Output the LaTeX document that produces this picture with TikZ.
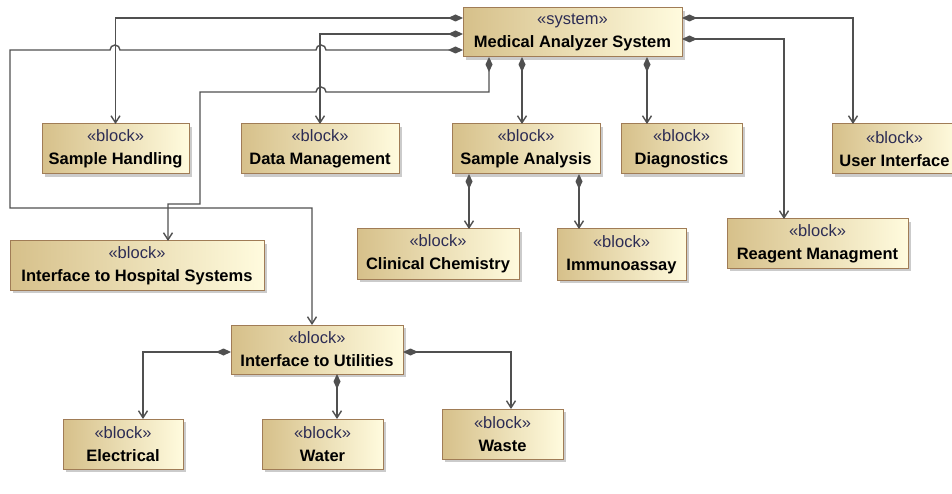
\documentclass[tikz,border=0pt]{standalone}
\usepackage{fontspec}
\setmainfont{Liberation Sans}
\usetikzlibrary{arrows.meta,shadows}
\definecolor{blockedge}{RGB}{160,124,86}
\definecolor{blocktan}{RGB}{214,192,138}
\definecolor{blockcream}{RGB}{255,251,222}
\definecolor{wire}{RGB}{80,80,80}
\definecolor{stereo}{RGB}{44,44,84}
\def\blk#1#2{{\color{stereo}«#1»}\\\textbf{#2}}

\begin{document}
\begin{tikzpicture}[x=1pt, y=-1pt,
		block/.style={draw=blockedge, line width=1pt, left color=blocktan, right color=blockcream,
			drop shadow={shadow xshift=3pt, shadow yshift=-3pt, fill=black!40, opacity=0.5},
			anchor=north west, inner sep=0pt, outer sep=0pt, align=center,
			font=\fontsize{16.5}{23}\selectfont},
		part/.style={draw=wire, line width=1.4pt, {Diamond[length=15pt,width=7pt]}-{Straight Barb[length=7pt,width=9pt]}}]
			%%%%% START %%%%%
			
			\useasboundingbox (0,0) rectangle (952,494);
			\clip (0,0) rectangle (952,494);
			\fill[white] (0,0) rectangle (952,494);
			
			\node[block, minimum width=219pt, minimum height=49pt] (mas) at (463,8) {\blk{system}{Medical Analyzer System}};
			
			\node[block, minimum width=147pt, minimum height=50pt] (handling) at (42,124) {\blk{block}{Sample Handling}};
			\node[block, minimum width=158pt, minimum height=50pt] (data) at (241,124) {\blk{block}{Data Management}};
			\node[block, minimum width=148pt, minimum height=50pt] (analysis) at (452,124) {\blk{block}{Sample Analysis}};
			\node[block, minimum width=121pt, minimum height=50pt] (diag) at (621,124) {\blk{block}{Diagnostics}};
			\node[block, minimum width=125pt, minimum height=50pt] (ui) at (832,124) {\blk{block}{User Interface}};
			
			\node[block, minimum width=254pt, minimum height=49pt] (hospital) at (10,241) {\blk{block}{Interface to Hospital Systems}};
			\node[block, minimum width=162pt, minimum height=50pt] (chem) at (357,229) {\blk{block}{Clinical Chemistry}};
			\node[block, minimum width=129pt, minimum height=51pt] (immuno) at (557,229) {\blk{block}{Immunoassay}};
			\node[block, minimum width=181pt, minimum height=49pt] (reagent) at (727,219) {\blk{block}{Reagent Managment}};
			
			\node[block, minimum width=172pt, minimum height=49pt] (utilities) at (231,325) {\blk{block}{Interface to Utilities}};
			\node[block, minimum width=120pt, minimum height=50pt] (electrical) at (63,419) {\blk{block}{Electrical}};
			\node[block, minimum width=121pt, minimum height=50pt] (water) at (262,419) {\blk{block}{Water}};
			\node[block, minimum width=121pt, minimum height=50pt] (waste) at (442,409) {\blk{block}{Waste}};
			
			% left side of the system
			\draw[part] (mas.west |- 0,18) -| (handling.north);
			\draw[part] (mas.west |- 0,34) -| (data.north);
			\draw[part] (mas.west |- 0,50) -- (326,50) arc[start angle=0, end angle=180, radius=5pt] -- (120,50) arc[start angle=0, end angle=180, radius=5pt] -- (10,50) -- (10,208) -| (utilities.north -| 312,0);
			
			% bottom of the system
			\draw[part] (mas.south -| 489,0) -- (489,92) -- (326,92) arc[start angle=0, end angle=180, radius=5pt] -- (200,92) -- (200,204) -| (hospital.north -| 168,0);
			\draw[part] (mas.south -| 522,0) -- (analysis.north -| 522,0);
			\draw[part] (mas.south -| 647,0) -- (diag.north -| 647,0);
			
			% right side of the system
			\draw[part] (mas.east |- 0,18) -| (ui.north -| 853,0);
			\draw[part] (mas.east |- 0,39) -| (reagent.north -| 784,0);
			
			\draw[part] (analysis.south -| 469,0) -- (chem.north -| 469,0);
			\draw[part] (analysis.south -| 579,0) -- (immuno.north -| 579,0);
			
			\draw[part] (utilities.west |- 0,352) -| (electrical.north -| 143,0);
			\draw[part] (utilities.south -| 337,0) -- (water.north -| 337,0);
			\draw[part] (utilities.east |- 0,352) -| (waste.north -| 511,0);
			
			%%%%% END %%%%%
		\end{tikzpicture}
\end{document}
